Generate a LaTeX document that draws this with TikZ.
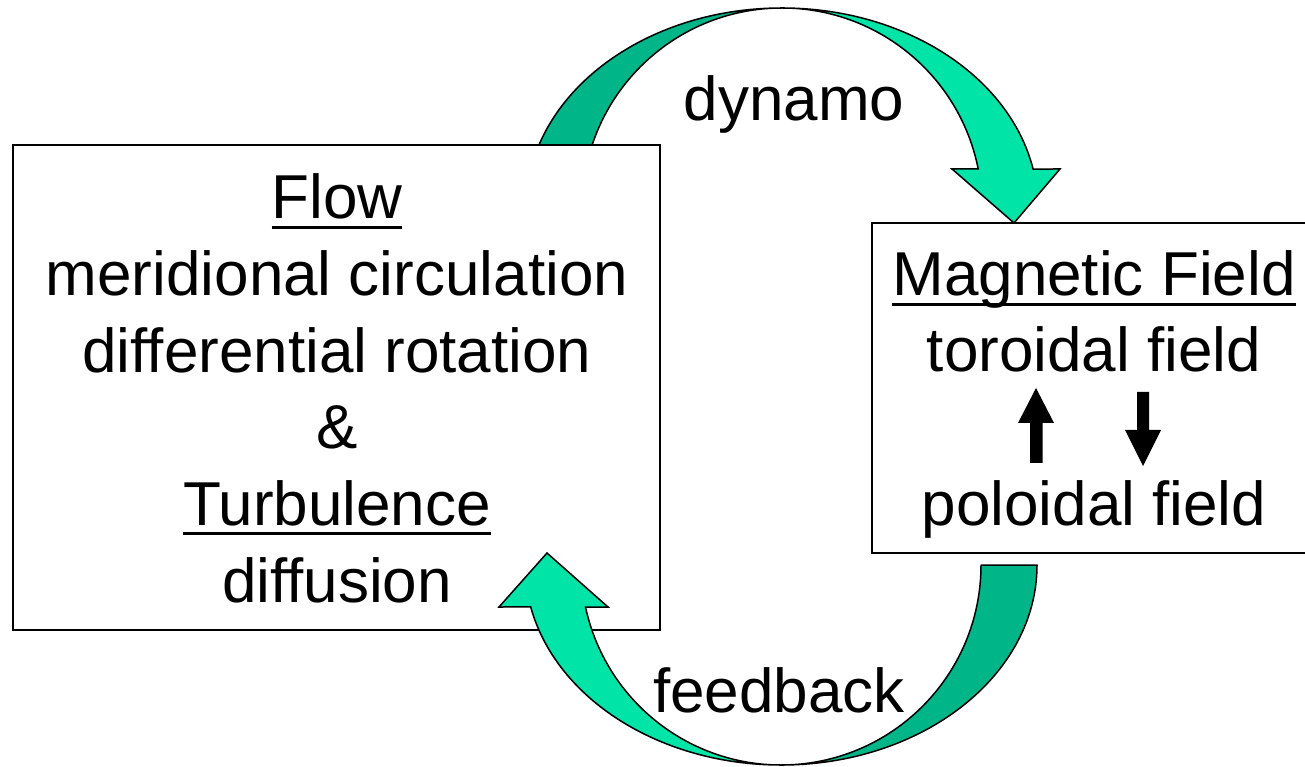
\documentclass[tikz,border=0pt]{standalone}
\usepackage{fontspec}
\setmainfont{Liberation Sans}
\definecolor{darkband}{RGB}{0,181,136}
\definecolor{lightband}{RGB}{0,228,168}
\newsavebox\ulbox
\newcommand{\ulin}[1]{\sbox\ulbox{#1}\rlap{\rule[-10pt]{\wd\ulbox}{3pt}}\usebox\ulbox}
\begin{document}
\begin{tikzpicture}[x=1pt,y=1pt,
  box/.style={draw=black, fill=white, line width=1.8pt, rectangle, inner sep=0pt},
  txt/.style={font=\fontsize{62}{74}\selectfont, inner sep=0pt, anchor=base},
  bandback/.style={fill=darkband, draw=black, line width=1.5pt, line join=round},
  bandfront/.style={fill=lightband, draw=black, line width=1.5pt, line join=miter},
  smallarrow/.style={fill=black, draw=none}]
\useasboundingbox (0,0) rectangle (1305,766);
% top curved arrow (dynamo)
\coordinate (topc) at (782,558);
\fill[bandback] (526,558) arc[start angle=180, end angle=90, x radius=256pt, y radius=200pt]
  arc[start angle=90, end angle=180, radius=200pt] -- cycle;
\filldraw[bandfront] (782,758) arc[start angle=90, end angle=11.24, x radius=256pt, y radius=200pt]
  -- (1060,597) -- (1014,543) -- (952,597) -- (978.2,597)
  arc[start angle=11.24, end angle=90, radius=200pt] -- cycle;
% left box
\node[box, minimum width=647pt, minimum height=485pt] (flowbox) at (336.5,378.5) {};
% bottom curved arrow (feedback)
\fill[bandback] (1037,201) arc[start angle=0, end angle=-90, x radius=256pt, y radius=200pt]
  arc[start angle=-90, end angle=0, radius=200pt] -- cycle;
\filldraw[bandfront] (781,1) arc[start angle=270, end angle=192.12, x radius=256pt, y radius=200pt]
  -- (499,159) -- (547,213) -- (608,159) -- (585.5,159)
  arc[start angle=192.12, end angle=270, radius=200pt] -- cycle;
% right box
\node[box, minimum width=440pt, minimum height=330pt] (fieldbox) at (1092,378) {};
% left box texts
\node[txt] (flow) at (337,547) {\ulin{Flow}};
\node[txt] (merid) at (337,470.4) {meridional circulation};
\node[txt] (diffrot) at (337,393.8) {differential rotation};
\node[txt] (amp) at (337,317.2) {\&};
\node[txt] (turb) at (337,240.6) {\ulin{Turbulence}};
\node[txt] (diffus) at (337,164) {diffusion};
% right box texts
\node[txt] (magf) at (1094,470) {\ulin{Magnetic Field}};
\node[txt] (toro) at (1094,394) {toroidal field};
\node[txt] (polo) at (1094,241) {poloidal field};
% small arrows
\fill[smallarrow] (1036,378) -- (1054,343) -- (1042.5,343) -- (1042.5,303) -- (1030,303) -- (1030,343) -- (1018,343) -- cycle;
\fill[smallarrow] (1137,374) -- (1149,374) -- (1149,336) -- (1161,336) -- (1143,300) -- (1125,336) -- (1137,336) -- cycle;
% labels
\node[txt] (dyn) at (794,645) {dynamo};
\node[txt] (feed) at (779,54) {feedback};
\end{tikzpicture}
\end{document}
